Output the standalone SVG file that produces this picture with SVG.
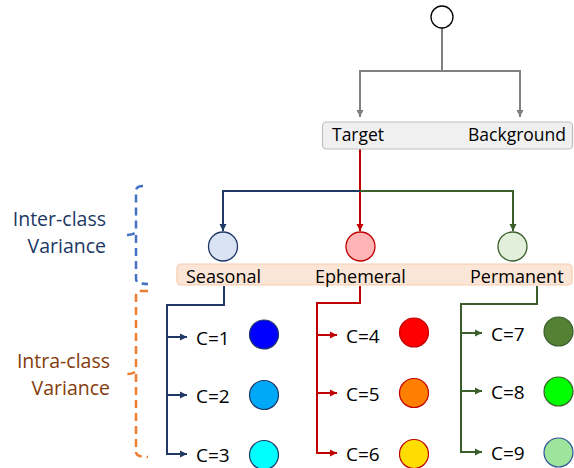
<svg xmlns="http://www.w3.org/2000/svg" width="574" height="468" viewBox="0 0 574 468">
<style>
text{font-family:"Open Sans","DejaVu Sans",sans-serif;fill:#000}
.lbl{font-size:17.5px}
.cls{font-size:18px}
.c{font-size:19px}
.side{font-size:19.5px;text-anchor:end}
.gray{stroke:#808080;stroke-width:2;fill:none}
.navy{stroke:#203864;stroke-width:2;fill:none}
.red{stroke:#c00000;stroke-width:2;fill:none}
.green{stroke:#3b5e2b;stroke-width:2;fill:none}
.brace{stroke-width:2.5;fill:none;stroke-dasharray:8 5}
</style>
<defs>
<marker id="ag" markerWidth="8" markerHeight="8" refX="7" refY="4" orient="auto" markerUnits="userSpaceOnUse"><path d="M0,0.5L7,4L0,7.5z" fill="#808080"/></marker>
<marker id="an" markerWidth="8" markerHeight="8" refX="7" refY="4" orient="auto" markerUnits="userSpaceOnUse"><path d="M0,0.5L7,4L0,7.5z" fill="#203864"/></marker>
<marker id="ar" markerWidth="8" markerHeight="8" refX="7" refY="4" orient="auto" markerUnits="userSpaceOnUse"><path d="M0,0.5L7,4L0,7.5z" fill="#c00000"/></marker>
<marker id="agr" markerWidth="8" markerHeight="8" refX="7" refY="4" orient="auto" markerUnits="userSpaceOnUse"><path d="M0,0.5L7,4L0,7.5z" fill="#3b5e2b"/></marker>
</defs>

<g id="connectors">
<path class="gray" d="M442,28V71H360V117" marker-end="url(#ag)"/>
<path class="gray" d="M442,71H520V117" marker-end="url(#ag)"/>
<path class="red" d="M360,149V231" marker-end="url(#ar)"/>
<path class="navy" d="M360,191H223V231" marker-end="url(#an)"/>
<path class="green" d="M360,191H513V231" marker-end="url(#agr)"/>
<path class="navy" d="M224,286V305H167V454H187" marker-end="url(#an)"/>
<path class="navy" d="M167,337H187" marker-end="url(#an)"/>
<path class="navy" d="M167,395H187" marker-end="url(#an)"/>
<path class="red" d="M360,286V303H317V453H337" marker-end="url(#ar)"/>
<path class="red" d="M317,335H337" marker-end="url(#ar)"/>
<path class="red" d="M317,393H337" marker-end="url(#ar)"/>
<path class="green" d="M537,286V304H461V452H482" marker-end="url(#agr)"/>
<path class="green" d="M461,333H482" marker-end="url(#agr)"/>
<path class="green" d="M461,391H482" marker-end="url(#agr)"/>
</g>

<g id="root"><circle cx="442" cy="17" r="11" fill="#fff" stroke="#000" stroke-width="1.3"/></g>

<g id="target-background">
<rect x="322.5" y="122" width="250" height="27" rx="4" fill="#f0f0f0" stroke="#bfbfbf" stroke-width="1.2"/>
<text class="lbl" x="332" y="140.5">Target</text>
<text class="lbl" x="566" y="140.5" text-anchor="end">Background</text>
</g>

<g id="class-bar">
<rect x="177" y="264" width="395" height="21" rx="4" fill="#fbe5d6" stroke="#f8cbad" stroke-width="1.2"/>
</g>
<g id="seasonal">
<circle cx="223" cy="246.5" r="14.5" fill="#dae3f3" stroke="#203864" stroke-width="1.3"/>
<text class="cls" x="186" y="283">Seasonal</text>
</g>
<g id="ephemeral">
<circle cx="360.5" cy="246.5" r="14.5" fill="#ffb5b5" stroke="#c00000" stroke-width="1.3"/>
<text class="cls" x="315" y="283">Ephemeral</text>
</g>
<g id="permanent">
<circle cx="512.5" cy="246.5" r="14.5" fill="#e2efda" stroke="#3b5e2b" stroke-width="1.3"/>
<text class="cls" x="470" y="283">Permanent</text>
</g>

<g id="inter-class">
<path class="brace" stroke="#4472c4" d="M143,186Q136,186 136,191V230Q136,235 125,235M136,235V279Q136,284 148,284"/>
<text class="side" style="fill:#203864" x="106" y="225.5">Inter-class</text>
<text class="side" style="fill:#203864" x="106" y="252.5">Variance</text>
</g>
<g id="intra-class">
<path class="brace" stroke="#ed7d31" d="M148,291H141Q136,291 136,296V369Q136,374 126,374M136,374V452Q136,457 148,457"/>
<text class="side" style="fill:#843c0c" x="110" y="367.5">Intra-class</text>
<text class="side" style="fill:#843c0c" x="110" y="394.5">Variance</text>
</g>

<g id="c1"><text class="c" x="196" y="345">C=1</text><circle cx="264" cy="334.5" r="14.5" fill="#0000ff" stroke="#203864" stroke-width="1.2"/></g>
<g id="c2"><text class="c" x="196" y="403">C=2</text><circle cx="264" cy="395" r="14.5" fill="#00a8f8" stroke="#203864" stroke-width="1.2"/></g>
<g id="c3"><text class="c" x="196" y="462">C=3</text><circle cx="264" cy="455" r="14.5" fill="#00ffff" stroke="#203864" stroke-width="1.2"/></g>
<g id="c4"><text class="c" x="346" y="343">C=4</text><circle cx="414" cy="332.5" r="14.5" fill="#ff0000" stroke="#c00000" stroke-width="1.2"/></g>
<g id="c5"><text class="c" x="346" y="401">C=5</text><circle cx="414" cy="393" r="14.5" fill="#ff8000" stroke="#c00000" stroke-width="1.2"/></g>
<g id="c6"><text class="c" x="346" y="461">C=6</text><circle cx="414" cy="454" r="14.5" fill="#ffdd00" stroke="#c00000" stroke-width="1.2"/></g>
<g id="c7"><text class="c" x="491" y="341">C=7</text><circle cx="558.5" cy="331.5" r="14.5" fill="#548235" stroke="#3b5e2b" stroke-width="1.2"/></g>
<g id="c8"><text class="c" x="491" y="399">C=8</text><circle cx="558.5" cy="391.5" r="14.5" fill="#00ff00" stroke="#3b5e2b" stroke-width="1.2"/></g>
<g id="c9"><text class="c" x="491" y="460">C=9</text><circle cx="558.5" cy="452.5" r="14.5" fill="#9de59d" stroke="#2f5597" stroke-width="1.2"/></g>
</svg>
